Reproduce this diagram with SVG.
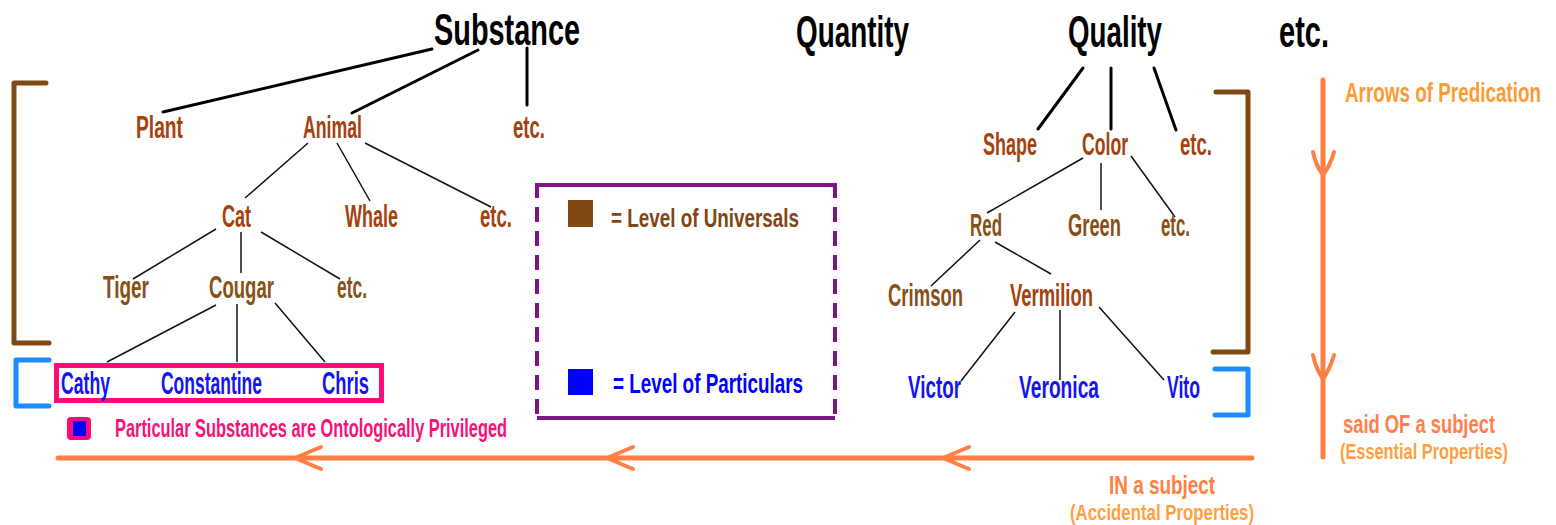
<svg xmlns="http://www.w3.org/2000/svg" width="1556" height="525" viewBox="0 0 1556 525">
  <style>
    text { font-family: "Liberation Sans Narrow", "Liberation Sans", sans-serif; font-weight: bold; }
    .cat { font-size: 44px; fill: #000; }
    .u1 { font-size: 32px; fill: #a3420e; }
    .u2 { font-size: 32px; fill: #875016; }
    .part { font-size: 32px; fill: #1414f0; }
    .edge-top { stroke: #000; stroke-width: 3; stroke-linecap: round; fill: none; }
    .edge { stroke: #111; stroke-width: 1.5; fill: none; }
    .br-brown { stroke: #7d4a13; stroke-width: 5; fill: none; stroke-linecap: round; stroke-linejoin: round; }
    .br-blue { stroke: #1a8cff; stroke-width: 5; fill: none; stroke-linecap: round; stroke-linejoin: round; }
    .pred { stroke: #ff7f45; stroke-width: 5; fill: none; stroke-linecap: round; }
    .head { stroke: #ff7f45; stroke-width: 4; fill: none; stroke-linecap: round; stroke-linejoin: round; }
    .legend-frame { stroke: #7f1685; stroke-width: 4; fill: none; }
  </style>

  <!-- category headings -->
  <g id="substance"><text class="cat" x="434" y="45" textLength="146" lengthAdjust="spacingAndGlyphs">Substance</text></g>
  <g id="quantity"><text class="cat" x="796" y="47" textLength="113" lengthAdjust="spacingAndGlyphs">Quantity</text></g>
  <g id="quality"><text class="cat" x="1068" y="47" textLength="94" lengthAdjust="spacingAndGlyphs">Quality</text></g>
  <g id="etc-top"><text class="cat" x="1279" y="47" textLength="50" lengthAdjust="spacingAndGlyphs">etc.</text></g>

  <!-- tree connectors -->
  <g id="connectors">
    <line class="edge-top" x1="432" y1="49" x2="163" y2="112"/>
    <line class="edge-top" x1="478" y1="50" x2="352" y2="113"/>
    <line class="edge-top" x1="527" y1="48" x2="527" y2="105"/>
    <line class="edge" x1="308" y1="143" x2="245" y2="198"/>
    <line class="edge" x1="337" y1="143" x2="370" y2="201"/>
    <line class="edge" x1="365" y1="143" x2="491" y2="207"/>
    <line class="edge" x1="216" y1="229" x2="133" y2="279"/>
    <line class="edge" x1="241" y1="232" x2="241" y2="273"/>
    <line class="edge" x1="261" y1="232" x2="340" y2="279"/>
    <line class="edge" x1="216" y1="305" x2="107" y2="362"/>
    <line class="edge" x1="237" y1="304" x2="237" y2="362"/>
    <line class="edge" x1="275" y1="303" x2="325" y2="362"/>
    <line class="edge-top" x1="1083" y1="68" x2="1038" y2="129"/>
    <line class="edge-top" x1="1111" y1="68" x2="1111" y2="129"/>
    <line class="edge-top" x1="1154" y1="68" x2="1176" y2="130"/>
    <line class="edge" x1="1083" y1="158" x2="987" y2="213"/>
    <line class="edge" x1="1101" y1="163" x2="1101" y2="210"/>
    <line class="edge" x1="1131" y1="156" x2="1175" y2="217"/>
    <line class="edge" x1="980" y1="240" x2="931" y2="286"/>
    <line class="edge" x1="995" y1="242" x2="1051" y2="274"/>
    <line class="edge" x1="1015" y1="312" x2="961" y2="381"/>
    <line class="edge" x1="1060" y1="310" x2="1060" y2="380"/>
    <line class="edge" x1="1099" y1="307" x2="1164" y2="380"/>
  </g>

  <!-- substance tree -->
  <g id="plant"><text class="u1" x="136" y="138" textLength="47" lengthAdjust="spacingAndGlyphs">Plant</text></g>
  <g id="animal"><text class="u1" x="303" y="138" textLength="59" lengthAdjust="spacingAndGlyphs">Animal</text></g>
  <g id="etc-substance"><text class="u1" x="513" y="138" textLength="32" lengthAdjust="spacingAndGlyphs">etc.</text></g>
  <g id="cat"><text class="u1" x="222" y="227" textLength="29" lengthAdjust="spacingAndGlyphs">Cat</text></g>
  <g id="whale"><text class="u1" x="345" y="227" textLength="53" lengthAdjust="spacingAndGlyphs">Whale</text></g>
  <g id="etc-animal"><text class="u1" x="480" y="227" textLength="32" lengthAdjust="spacingAndGlyphs">etc.</text></g>
  <g id="tiger"><text class="u2" x="103" y="298" textLength="46" lengthAdjust="spacingAndGlyphs">Tiger</text></g>
  <g id="cougar"><text class="u2" x="209" y="298" textLength="65" lengthAdjust="spacingAndGlyphs">Cougar</text></g>
  <g id="etc-cat"><text class="u2" x="337" y="298" textLength="30" lengthAdjust="spacingAndGlyphs">etc.</text></g>

  <!-- particular substances -->
  <g id="particulars-box">
    <rect x="56.5" y="365.5" width="325" height="35" fill="none" stroke="#ff0a78" stroke-width="5"/>
  </g>
  <g id="cathy"><text class="part" x="61" y="394" textLength="49" lengthAdjust="spacingAndGlyphs">Cathy</text></g>
  <g id="constantine"><text class="part" x="161" y="394" textLength="101" lengthAdjust="spacingAndGlyphs">Constantine</text></g>
  <g id="chris"><text class="part" x="322" y="394" textLength="47" lengthAdjust="spacingAndGlyphs">Chris</text></g>

  <g id="privileged-note">
    <rect x="67" y="417" width="24" height="23" rx="4" fill="#ff0a78"/>
    <rect x="73" y="421" width="13" height="15" fill="#0000ff"/>
    <text x="115" y="437" font-size="26" fill="#f5127a" textLength="392" lengthAdjust="spacingAndGlyphs">Particular Substances are Ontologically Privileged</text>
  </g>

  <!-- quality tree -->
  <g id="shape"><text class="u1" x="983" y="155" textLength="54" lengthAdjust="spacingAndGlyphs">Shape</text></g>
  <g id="color"><text class="u1" x="1082" y="155" textLength="46" lengthAdjust="spacingAndGlyphs">Color</text></g>
  <g id="etc-quality"><text class="u1" x="1180" y="155" textLength="32" lengthAdjust="spacingAndGlyphs">etc.</text></g>
  <g id="red"><text class="u2" x="970" y="236" textLength="32" lengthAdjust="spacingAndGlyphs">Red</text></g>
  <g id="green"><text class="u2" x="1068" y="236" textLength="53" lengthAdjust="spacingAndGlyphs">Green</text></g>
  <g id="etc-color"><text class="u2" x="1161" y="236" textLength="29" lengthAdjust="spacingAndGlyphs">etc.</text></g>
  <g id="crimson"><text class="u2" x="888" y="306" textLength="75" lengthAdjust="spacingAndGlyphs">Crimson</text></g>
  <g id="vermilion"><text class="u1" x="1010" y="306" textLength="83" lengthAdjust="spacingAndGlyphs">Vermilion</text></g>
  <g id="victor"><text class="part" x="908" y="398" textLength="53" lengthAdjust="spacingAndGlyphs">Victor</text></g>
  <g id="veronica"><text class="part" x="1019" y="398" textLength="80" lengthAdjust="spacingAndGlyphs">Veronica</text></g>
  <g id="vito"><text class="part" x="1167" y="398" textLength="33" lengthAdjust="spacingAndGlyphs">Vito</text></g>

  <!-- level brackets -->
  <g id="brackets">
    <path class="br-brown" d="M46,83 H14 V343 H49"/>
    <path class="br-blue" d="M49,360 H16 V406 H49"/>
    <path class="br-brown" d="M1216,92 H1248 V352 H1213"/>
    <path class="br-blue" d="M1215,369 H1248 V415 H1215"/>
  </g>

  <!-- legend -->
  <g id="legend">
    <line class="legend-frame" x1="537" y1="185" x2="835" y2="185"/>
    <line class="legend-frame" x1="537" y1="418" x2="835" y2="418"/>
    <line class="legend-frame" x1="537" y1="183" x2="537" y2="420" stroke-dasharray="15 9"/>
    <line class="legend-frame" x1="835" y1="183" x2="835" y2="420" stroke-dasharray="15 9"/>
    <rect x="568" y="200" width="25" height="27" fill="#7f4a14"/>
    <text x="611" y="227" font-size="25" fill="#7f4512" textLength="188" lengthAdjust="spacingAndGlyphs">= Level of Universals</text>
    <rect x="568" y="369" width="25" height="26" fill="#0000ff"/>
    <text x="613" y="393" font-size="28" fill="#0000ff" textLength="190" lengthAdjust="spacingAndGlyphs">= Level of Particulars</text>
  </g>

  <!-- arrows of predication -->
  <g id="said-of-arrow">
    <line class="pred" x1="1323" y1="80" x2="1323" y2="457"/>
    <path class="head" d="M1313,152 Q1316,166 1323,175 Q1330,166 1334,152"/>
    <path class="head" d="M1313,355 Q1316,369 1323,379 Q1330,369 1334,355"/>
    <text x="1345" y="102" font-size="27" fill="#ff9933" textLength="196" lengthAdjust="spacingAndGlyphs">Arrows of Predication</text>
    <text x="1343" y="433" font-size="25" fill="#ff7f50" textLength="152" lengthAdjust="spacingAndGlyphs">said OF a subject</text>
    <text x="1340" y="459" font-size="22" fill="#ffa040" textLength="168" lengthAdjust="spacingAndGlyphs">(Essential Properties)</text>
  </g>

  <g id="in-arrow">
    <line class="pred" x1="58" y1="458" x2="1252" y2="458"/>
    <path class="head" d="M321,447 L295,458 L321,469"/>
    <path class="head" d="M633,447 L607,458 L633,469"/>
    <path class="head" d="M969,447 L943,458 L969,469"/>
    <text x="1109" y="494" font-size="25" fill="#ff8040" textLength="106" lengthAdjust="spacingAndGlyphs">IN a subject</text>
    <text x="1070" y="520" font-size="22" fill="#ffa040" textLength="184" lengthAdjust="spacingAndGlyphs">(Accidental Properties)</text>
  </g>
</svg>
